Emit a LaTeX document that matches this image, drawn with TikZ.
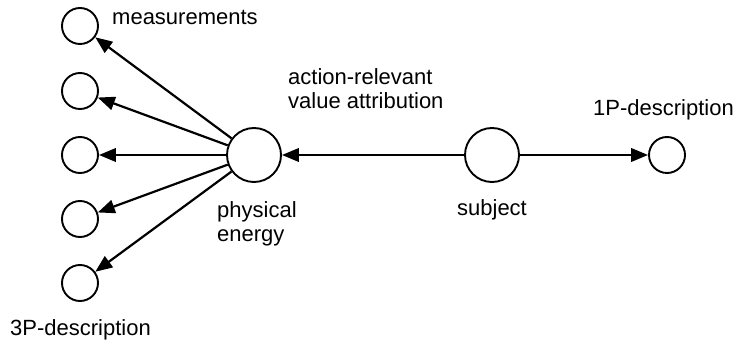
\documentclass[tikz,border=0pt]{standalone}
\usepackage{fontspec}
\setmainfont{Liberation Sans}
\usetikzlibrary{arrows.meta}
\begin{document}
\begin{tikzpicture}[x=1pt,y=-1pt,
  small/.style={circle,draw,line width=1.9pt,minimum size=36pt,inner sep=0pt},
  big/.style={circle,draw,line width=1.9pt,minimum size=54pt,inner sep=0pt},
  lbl/.style={inner sep=0pt,font=\fontsize{22}{24}\selectfont,align=left},
  arr/.style={line width=2.2pt,-{Triangle[length=17pt,width=13.5pt]}}]
\useasboundingbox (0,0) rectangle (738,344);
% left column of measurement circles
\node[small] (m1) at (80,26) {};
\node[small] (m2) at (80,91) {};
\node[small] (m3) at (80,155) {};
\node[small] (m4) at (80,219) {};
\node[small] (m5) at (80,283) {};
% central nodes
\node[big] (pe) at (254,155) {};
\node[big] (su) at (492,155) {};
\node[small] (fp) at (667,155) {};
% labels
\node[lbl,anchor=west] (tm) at (112,18) {measurements};
\node[lbl,anchor=west] (tv) at (288,89) {action-relevant\\value attribution};
\node[lbl,anchor=west] (t1) at (593,110) {1P-description};
\node[lbl,anchor=west] (tp) at (217,224) {physical\\energy};
\node[lbl] (ts) at (492,210) {subject};
\node[lbl,anchor=west] (t3) at (10,330) {3P-description};
% connectors
\foreach \m in {m1,m2,m3,m4,m5}
  \draw[arr] (pe) -- (\m);
\draw[arr] (su) -- (pe);
\draw[arr] (su) -- (fp);
\end{tikzpicture}
\end{document}
